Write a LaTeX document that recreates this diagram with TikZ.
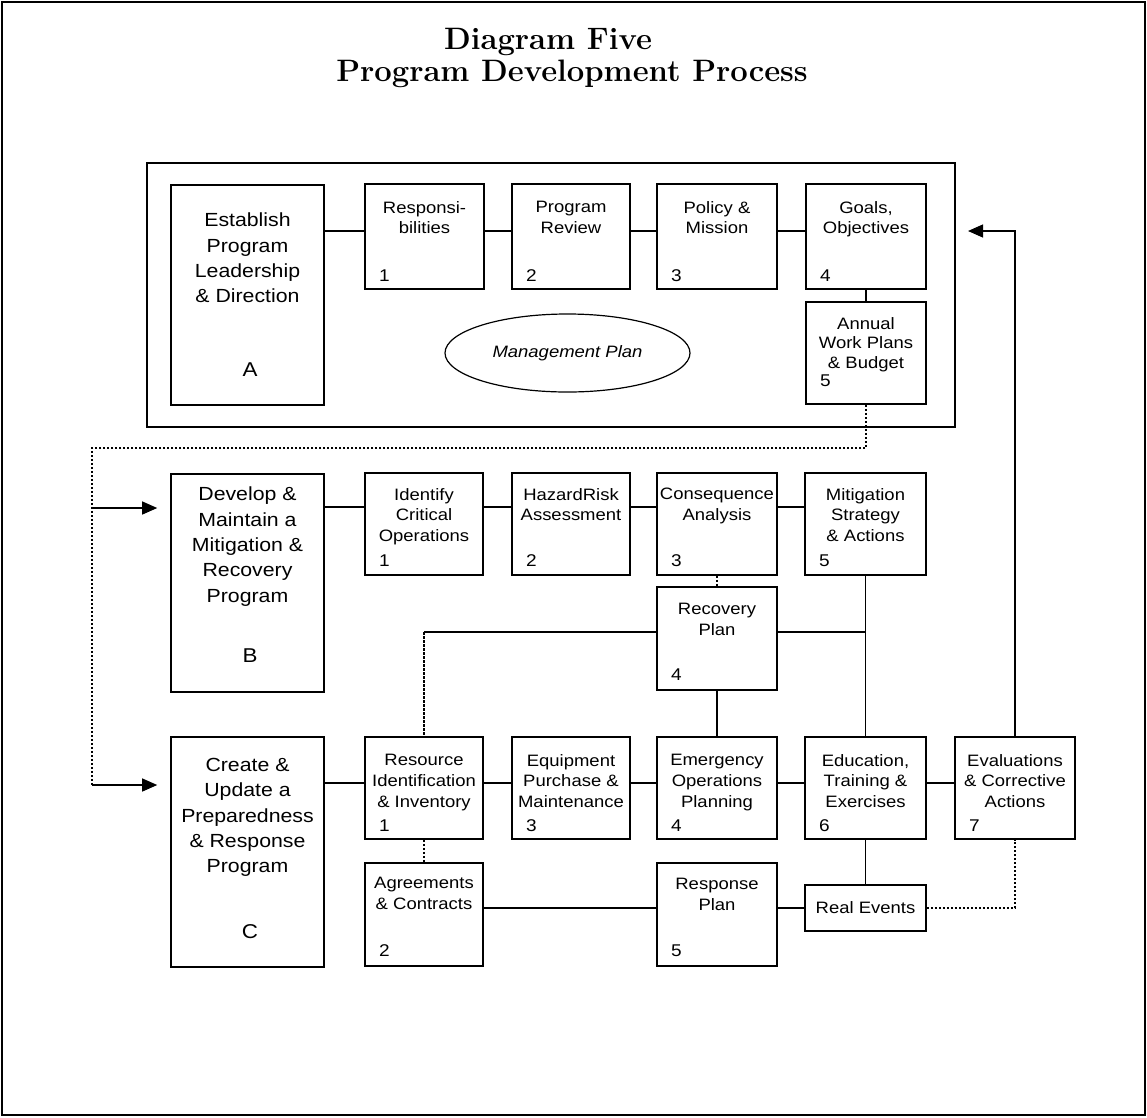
\documentclass[tikz,border=0pt]{standalone}
\usepackage{fontspec}
\newfontfamily\boxfont[FakeStretch=1.12]{Liberation Sans}
\usetikzlibrary{fit,shapes.geometric,arrows.meta}

\begin{document}
\begin{tikzpicture}[x=1pt,y=-1pt,
  outline/.style={draw, line width=1.6pt, inner sep=0pt},
  bigtext/.style={anchor=north, inner sep=0pt, align=center,
    font=\boxfont\fontsize{19}{25.3}\selectfont},
  smalltext/.style={anchor=north, inner sep=0pt, align=center,
    font=\boxfont\fontsize{16.5}{20.8}\selectfont},
  num/.style={anchor=west, inner sep=0pt, font=\boxfont\fontsize{17}{18}\selectfont},
  letter/.style={inner sep=0pt, font=\boxfont\fontsize{20}{21}\selectfont},
  titletext/.style={inner sep=0pt, anchor=base, font=\bfseries\fontsize{31}{31}\selectfont},
  link/.style={line width=1.2pt},
  faint/.style={line width=1.1pt, dash pattern=on 2.5pt off 1.5pt},
  tip/.style={-{Triangle[length=15pt,width=13pt]}, shorten >=13pt},
]
\useasboundingbox (0,0) rectangle (1147,1117);

% page border
\node[draw, line width=2.5pt, inner sep=0pt, fit={(2,2) (1145,1115)}] (page) {};

% title
\node[titletext] (title1) at (548,49) {Diagram Five};
\node[titletext] (title2) at (572,81) {Program Development Process};

% ---------------- A: leadership and direction ----------------
\node[outline, line width=1.4pt, fit={(147,163) (955,427)}] (frameA) {};
\node[outline, fit={(171,185) (324,405)}] (A) {};
\node[bigtext] (At) at (A.center |- 0,213) {Establish\\Program\\Leadership\\\& Direction};
\node[letter] (Al) at (250,370) {A};

\node[outline, fit={(365,184) (484,289)}] (A1) {};
\node[outline, fit={(512,184) (630,289)}] (A2) {};
\node[outline, fit={(657,184) (777,289)}] (A3) {};
\node[outline, fit={(806,184) (926,289)}] (A4) {};
\node[outline, fit={(806,302) (926,404)}] (A5) {};
\node[smalltext] (A1t) at (A1.center |- 0,201) {Responsi-\\bilities};
\node[smalltext] (A2t) at (A2.center |- 0,201) {Program\\Review};
\node[smalltext] (A3t) at (A3.center |- 0,201) {Policy \&\\Mission};
\node[smalltext] (A4t) at (A4.center |- 0,201) {Goals,\\Objectives};
\node[smalltext, font=\boxfont\fontsize{16.5}{19.5}\selectfont] (A5t) at (A5.center |- 0,317) {Annual\\Work Plans\\\& Budget};
\node[num] (A1n) at (379,276) {1};
\node[num] (A2n) at (526,276) {2};
\node[num] (A3n) at (671,276) {3};
\node[num] (A4n) at (820,276) {4};
\node[num] (A5n) at (820,381) {5};

\node[draw, line width=1.2pt, ellipse, minimum width=245pt, minimum height=78pt, inner sep=0pt,
  font=\boxfont\itshape\fontsize{16.5}{18}\selectfont] (mplan) at (567.5,353) {Management Plan};

% ---------------- B: mitigation and recovery ----------------
\node[outline, fit={(171,474) (324,692)}] (B) {};
\node[bigtext] (Bt) at (B.center |- 0,487) {Develop \&\\Maintain a\\Mitigation \&\\Recovery\\Program};
\node[letter] (Bl) at (250,656) {B};

\node[outline, fit={(365,473) (483,575)}] (B1) {};
\node[outline, fit={(512,473) (630,575)}] (B2) {};
\node[outline, fit={(657,473) (777,575)}] (B3) {};
\node[outline, fit={(805,473) (926,575)}] (B5) {};
\node[outline, fit={(657,587) (777,690)}] (Rec) {};
\node[smalltext] (B1t) at (B1.center |- 0,488) {Identify\\Critical\\Operations};
\node[smalltext] (B2t) at (B2.center |- 0,488) {HazardRisk\\Assessment};
\node[smalltext] (B3t) at (B3.center |- 0,488) {Consequence\\Analysis};
\node[smalltext] (B5t) at (B5.center |- 0,488) {Mitigation\\Strategy\\\& Actions};
\node[smalltext] (Rect) at (Rec.center |- 0,603) {Recovery\\Plan};
\node[num] (B1n) at (379,561) {1};
\node[num] (B2n) at (526,561) {2};
\node[num] (B3n) at (671,561) {3};
\node[num] (B5n) at (819,561) {5};
\node[num] (Recn) at (671,675) {4};

% ---------------- C: preparedness and response ----------------
\node[outline, fit={(171,737) (324,967)}] (C) {};
\node[bigtext] (Ct) at (C.center |- 0,758) {Create \&\\Update a\\Preparedness\\\& Response\\Program};
\node[letter] (Cl) at (250,932) {C};

\node[outline, fit={(365,737) (483,839)}] (C1) {};
\node[outline, fit={(512,737) (630,839)}] (C3) {};
\node[outline, fit={(657,737) (777,839)}] (C4) {};
\node[outline, fit={(805,737) (926,839)}] (C6) {};
\node[outline, fit={(955,737) (1075,839)}] (C7) {};
\node[outline, fit={(365,863) (483,966)}] (C2) {};
\node[outline, fit={(657,863) (777,966)}] (Resp) {};
\node[outline, fit={(805,885) (926,931)}] (Real) {};
\node[smalltext] (C1t) at (C1.center |- 0,754) {Resource\\Identification\\\& Inventory};
\node[smalltext] (C3t) at (C3.center |- 0,754) {Equipment\\Purchase \&\\Maintenance};
\node[smalltext] (C4t) at (C4.center |- 0,754) {Emergency\\Operations\\Planning};
\node[smalltext] (C6t) at (C6.center |- 0,754) {Education,\\Training \&\\Exercises};
\node[smalltext] (C7t) at (C7.center |- 0,754) {Evaluations\\\& Corrective\\Actions};
\node[smalltext] (C2t) at (C2.center |- 0,877) {Agreements\\\& Contracts};
\node[smalltext] (Respt) at (Resp.center |- 0,878) {Response\\Plan};
\node[smalltext, anchor=center] (Realt) at (Real.center) {Real Events};
\node[num] (C1n) at (379,826) {1};
\node[num] (C3n) at (526,826) {3};
\node[num] (C4n) at (671,826) {4};
\node[num] (C6n) at (819,826) {6};
\node[num] (C7n) at (969,826) {7};
\node[num] (C2n) at (379,951) {2};
\node[num] (Respn) at (671,951) {5};

% ---------------- connector levels ----------------
\coordinate (rowA) at (0,231);
\coordinate (rowB) at (0,507);
\coordinate (rowRec) at (0,632);
\coordinate (rowC) at (0,783);
\coordinate (rowResp) at (0,908);
\coordinate (loopTL) at (92,448);
\coordinate (loopB) at (92,508);
\coordinate (loopC) at (92,785);
\coordinate (evalTip) at (968,231);

% row A
\draw[link] (A.east |- rowA) -- (A1.west |- rowA);
\draw[link] (A1.east |- rowA) -- (A2.west |- rowA);
\draw[link] (A2.east |- rowA) -- (A3.west |- rowA);
\draw[link] (A3.east |- rowA) -- (A4.west |- rowA);
\draw[link] (A4.south) -- (A5.north);

% feedback from the work plans into programs B and C
\draw[faint] (A5.south) |- (loopTL) -- (loopC);
\draw[link, tip] (loopB) -- (B.west |- loopB);
\draw[link, tip] (loopC) -- (C.west |- loopC);

% row B
\draw[link] (B.east |- rowB) -- (B1.west |- rowB);
\draw[link] (B1.east |- rowB) -- (B2.west |- rowB);
\draw[link] (B2.east |- rowB) -- (B3.west |- rowB);
\draw[link] (B3.east |- rowB) -- (B5.west |- rowB);
\draw[faint] (B3.south) -- (Rec.north);
\draw[link] (Rec.east |- rowRec) -- (B5.south |- rowRec);
\draw[link] (Rec.west |- rowRec) -- (C1.north |- rowRec);
\draw[faint] (C1.north |- rowRec) -- (C1.north);
\draw[link] (B5.south) -- (C6.north);
\draw[link] (Rec.south) -- (C4.north);

% row C
\draw[link] (C.east |- rowC) -- (C1.west |- rowC);
\draw[link] (C1.east |- rowC) -- (C3.west |- rowC);
\draw[link] (C3.east |- rowC) -- (C4.west |- rowC);
\draw[link] (C4.east |- rowC) -- (C6.west |- rowC);
\draw[link] (C6.east |- rowC) -- (C7.west |- rowC);
\draw[faint] (C1.south) -- (C2.north);
\draw[link] (C2.east |- rowResp) -- (Resp.west |- rowResp);
\draw[link] (Resp.east |- rowResp) -- (Real.west);
\draw[link] (C6.south) -- (Real.north);
\draw[faint] (Real.east) -| (C7.south);

% evaluations feed back into goals
\draw[link, -{Triangle[length=15pt,width=13pt]}] (C7.north) |- (evalTip);
\end{tikzpicture}
\end{document}
